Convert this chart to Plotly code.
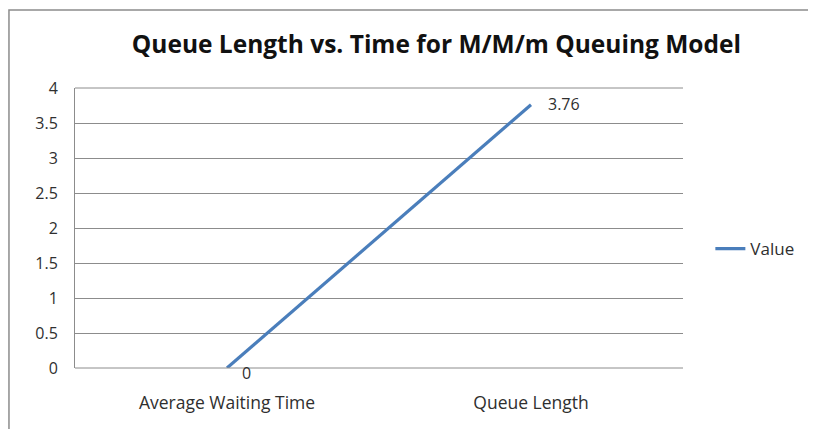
import plotly.graph_objects as go

categories = ["Average Waiting Time", "Queue Length"]
values = [0, 3.76]
value_labels = ["0", "3.76"]
series_name = "Value"
title_text = "Queue Length vs. Time for M/M/m Queuing Model"
y_ticks = [0, 0.5, 1, 1.5, 2, 2.5, 3, 3.5, 4]
y_tick_text = ["0", "0.5", "1", "1.5", "2", "2.5", "3", "3.5", "4"]

FONT = "'Open Sans', Lato, sans-serif"
TXT = "#2f2f2f"
GRID = "#8C8C8C"

fig = go.Figure()
fig.add_trace(go.Scatter(
    x=categories, y=values, name=series_name,
    mode="lines",
    line=dict(color="#4A7EBB", width=3.2),
    cliponaxis=False,
))

annotations = []
shifts = [(13, -5), (15, 1)]
for c, v, t, (dx, dy) in zip(categories, values, value_labels, shifts):
    annotations.append(dict(x=c, y=v, xref="x", yref="y", text=t,
                            showarrow=False, xanchor="left", yanchor="middle",
                            xshift=dx, yshift=dy,
                            font=dict(family=FONT, size=16, color=TXT)))

fig.update_layout(
    width=816, height=429,
    margin=dict(l=67, r=141, t=80, b=69),
    paper_bgcolor="white", plot_bgcolor="white",
    title=dict(text="<b>" + title_text + "</b>", x=0.525, xanchor="center",
               y=0.915, yanchor="middle",
               font=dict(family=FONT, size=24.5, color="#111111")),
    xaxis=dict(type="category", range=[-0.5, 1.5], showgrid=False,
               showline=False, zeroline=False, ticks="",
               tickfont=dict(family=FONT, size=17.5, color=TXT),
               ticklabelstandoff=22),
    yaxis=dict(range=[0, 4], tickvals=y_ticks, ticktext=y_tick_text,
               showgrid=True, gridcolor=GRID, gridwidth=1,
               showline=True, linecolor=GRID, linewidth=1,
               zeroline=False, ticks="",
               tickfont=dict(family=FONT, size=16, color=TXT),
               ticklabelstandoff=13),
    showlegend=True,
    legend=dict(x=1.045, y=0.425, xanchor="left", yanchor="middle",
                font=dict(family=FONT, size=17, color=TXT),
                bgcolor="rgba(0,0,0,0)"),
    annotations=annotations,
    shapes=[
        dict(type="line", xref="paper", yref="paper", x0=0, x1=1, y0=0, y1=0,
             line=dict(color=GRID, width=1)),
        dict(type="line", xref="paper", yref="paper", x0=0, x1=1, y0=1, y1=1,
             line=dict(color=GRID, width=1)),
        dict(type="rect", xref="paper", yref="paper", x0=-0.1086, x1=1.4,
             y0=-0.4, y1=1.2786, line=dict(color=GRID, width=1.5),
             layer="below"),
    ],
)

fig.write_html("out.html")
